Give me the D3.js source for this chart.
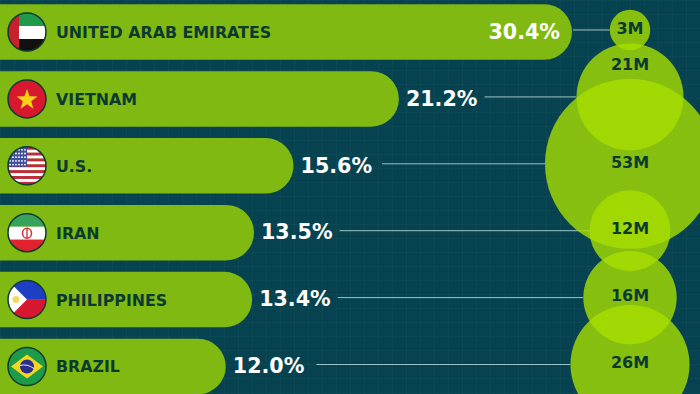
<!DOCTYPE html>
<html>
<head>
<meta charset="utf-8">
<script src="https://cdn.jsdelivr.net/npm/d3@7"></script>
<style>
  html, body { margin: 0; padding: 0; background: #06424f; overflow: hidden; }
</style>
</head>
<body>
<div id="chart"></div>
<script>
const countries = ["UNITED ARAB EMIRATES", "VIETNAM", "U.S.", "IRAN", "PHILIPPINES", "BRAZIL"]
const shares = [30.4, 21.2, 15.6, 13.5, 13.4, 12.0]
const population = [3, 21, 53, 12, 16, 26]
const flagCodes = ["ae", "vn", "us", "ir", "ph", "br"]

const width = 700
const height = 394
const fontBold = "'DejaVu Sans', sans-serif"

const svg = d3.select("#chart").append("svg")
  .attr("width", width)
  .attr("height", height)
  .style("display", "block")

// fond + grille
svg.append("rect").attr("width", width).attr("height", height).attr("fill", "#06424f")
const gridStep = 14
const grid = svg.append("g").attr("stroke", "#5fb0a0").attr("stroke-opacity", 0.06)
d3.range(0, width, gridStep).forEach(x => {
  grid.append("line").attr("x1", x + 0.5).attr("x2", x + 0.5).attr("y1", 0).attr("y2", height)
})
d3.range(0, height, gridStep).forEach(y => {
  grid.append("line").attr("x1", 0).attr("x2", width).attr("y1", y + 0.5).attr("y2", y + 0.5)
})

// échelles
const x = d3.scaleLinear().domain([0, 30.4]).range([0, 572])
const y = d3.scalePoint().domain(countries).range([30, 364.5])
const r = d3.scaleSqrt().domain([0, 53]).range([0, 85])
const bubbleX = 630
const barHeight = 55.5

// texte large : la police est un peu resserrée horizontalement
function wideText(px, py, size, squeeze) {
  return svg.append("text")
    .attr("transform", `translate(${px},${py}) scale(${squeeze},1)`)
    .attr("dy", "0.36em")
    .attr("font-family", fontBold)
    .attr("font-weight", 700)
    .attr("font-size", size)
}

// lignes de rappel (sous les barres et les bulles)
const leaders = svg.append("g")

// barres
countries.forEach((c, i) => {
  svg.append("rect")
    .attr("x", -40)
    .attr("y", y(c) + 2 - barHeight / 2)
    .attr("width", x(shares[i]) + 40)
    .attr("height", barHeight)
    .attr("rx", barHeight / 2)
    .attr("fill", "#7fb911")
})

// pourcentages
const leaderGap = { "U.S.": 10, BRAZIL: 12 }
const pctSqueeze = 0.96
countries.forEach((c, i) => {
  const inside = i === 0
  const px = inside ? x(shares[i]) - 12 : x(shares[i]) + 7
  const label = wideText(px, y(c) + 1, 21.5, pctSqueeze)
    .attr("text-anchor", inside ? "end" : "start")
    .attr("fill", "#ffffff")
    .text(shares[i].toFixed(1) + "%")
  const textWidth = label.node().getComputedTextLength() * pctSqueeze
  const end = inside ? x(shares[i]) + 1 : px + textWidth + (leaderGap[c] || 7)
  leaders.append("line")
    .attr("x1", end)
    .attr("x2", bubbleX - r(population[i]))
    .attr("y1", y(c))
    .attr("y2", y(c))
    .attr("stroke", "#9fc4c4")
    .attr("stroke-width", 1)
})

// noms de pays
countries.forEach(c => {
  wideText(56, y(c) + 2, 16.5, 0.96)
    .attr("fill", "#0b3a32")
    .text(c)
})

// bulles
svg.append("g").selectAll("circle")
  .data(countries)
  .enter()
  .append("circle")
  .attr("cx", bubbleX)
  .attr("cy", d => y(d))
  .attr("r", (d, i) => r(population[i]))
  .attr("fill", "rgba(168,222,0,0.8)")

countries.forEach((c, i) => {
  // 21M est placé en haut de sa bulle
  const dy = c === "VIETNAM" ? -33 : -2
  wideText(bubbleX, y(c) + dy, 16, 1)
    .attr("text-anchor", "middle")
    .attr("fill", "#0b3a32")
    .text(population[i] + "M")
})

// drapeaux
const flagR = 19
const flagX = 27
const defs = svg.append("defs")
defs.append("clipPath").attr("id", "flag-clip")
  .append("circle").attr("r", flagR)

function star(cx, cy, outer, inner, n) {
  const pts = []
  for (let k = 0; k < n * 2; k++) {
    const a = -Math.PI / 2 + (k * Math.PI) / n
    const rad = k % 2 === 0 ? outer : inner
    pts.push([cx + rad * Math.cos(a), cy + rad * Math.sin(a)])
  }
  return pts.join(" ")
}

const flagDraw = {
  ae(g) {
    g.append("rect").attr("x", -19).attr("y", -19).attr("width", 38).attr("height", 13).attr("fill", "#1f9a4a")
    g.append("rect").attr("x", -19).attr("y", -6).attr("width", 38).attr("height", 13).attr("fill", "#ffffff")
    g.append("rect").attr("x", -19).attr("y", 7).attr("width", 38).attr("height", 12).attr("fill", "#111111")
    g.append("rect").attr("x", -19).attr("y", -19).attr("width", 11).attr("height", 38).attr("fill", "#c8202c")
  },
  vn(g) {
    g.append("rect").attr("x", -19).attr("y", -19).attr("width", 38).attr("height", 38).attr("fill", "#d8182f")
    g.append("polygon").attr("points", star(0, 1, 11, 4.4, 5)).attr("fill", "#fbd116")
  },
  us(g) {
    d3.range(13).forEach(k => {
      g.append("rect").attr("x", -19).attr("y", -19 + k * 38 / 13)
        .attr("width", 38).attr("height", 38 / 13 + 0.2)
        .attr("fill", k % 2 === 0 ? "#bf2a3c" : "#ffffff")
    })
    g.append("rect").attr("x", -19).attr("y", -19).attr("width", 19).attr("height", 20).attr("fill", "#3f4f9c")
    d3.range(5).forEach(row => d3.range(6).forEach(col => {
      g.append("circle").attr("cx", -17 + col * 3).attr("cy", -16 + row * 3.7).attr("r", 0.9).attr("fill", "#ffffff")
    }))
  },
  ir(g) {
    g.append("rect").attr("x", -19).attr("y", -19).attr("width", 38).attr("height", 13).attr("fill", "#35a35a")
    g.append("rect").attr("x", -19).attr("y", -6).attr("width", 38).attr("height", 13).attr("fill", "#ffffff")
    g.append("rect").attr("x", -19).attr("y", 7).attr("width", 38).attr("height", 12).attr("fill", "#e0232e")
    g.append("ellipse").attr("cx", 0).attr("cy", 0.5).attr("rx", 4.5).attr("ry", 5).attr("fill", "none").attr("stroke", "#d9303a").attr("stroke-width", 1.6)
    g.append("line").attr("x1", 0).attr("x2", 0).attr("y1", -5).attr("y2", 5.5).attr("stroke", "#d9303a").attr("stroke-width", 1.4)
  },
  ph(g) {
    g.append("rect").attr("x", -19).attr("y", -19).attr("width", 38).attr("height", 19).attr("fill", "#1d3fc4")
    g.append("rect").attr("x", -19).attr("y", 0).attr("width", 38).attr("height", 19).attr("fill", "#d6172f")
    g.append("polygon").attr("points", "-19,-19 0,0 -19,19").attr("fill", "#ffffff")
    g.append("circle").attr("cx", -11).attr("cy", 0).attr("r", 3.5).attr("fill", "#f6d860")
  },
  br(g) {
    g.append("rect").attr("x", -19).attr("y", -19).attr("width", 38).attr("height", 38).attr("fill", "#1c9b48")
    g.append("polygon").attr("points", "-16,0 0,-12 16,0 0,12").attr("fill", "#f4d61c")
    g.append("circle").attr("r", 7).attr("fill", "#2a2f8f")
    g.append("path").attr("d", "M-7,-1 Q0,-3 7,2").attr("fill", "none").attr("stroke", "#e8e8e8").attr("stroke-width", 1)
  }
}

countries.forEach((c, i) => {
  const g = svg.append("g").attr("transform", `translate(${flagX},${y(c) + 2})`)
  const inner = g.append("g").attr("clip-path", "url(#flag-clip)")
  flagDraw[flagCodes[i]](inner)
  g.append("circle").attr("r", flagR).attr("fill", "none").attr("stroke", "#123a30").attr("stroke-width", 1.5)
})
</script>
</body>
</html>
